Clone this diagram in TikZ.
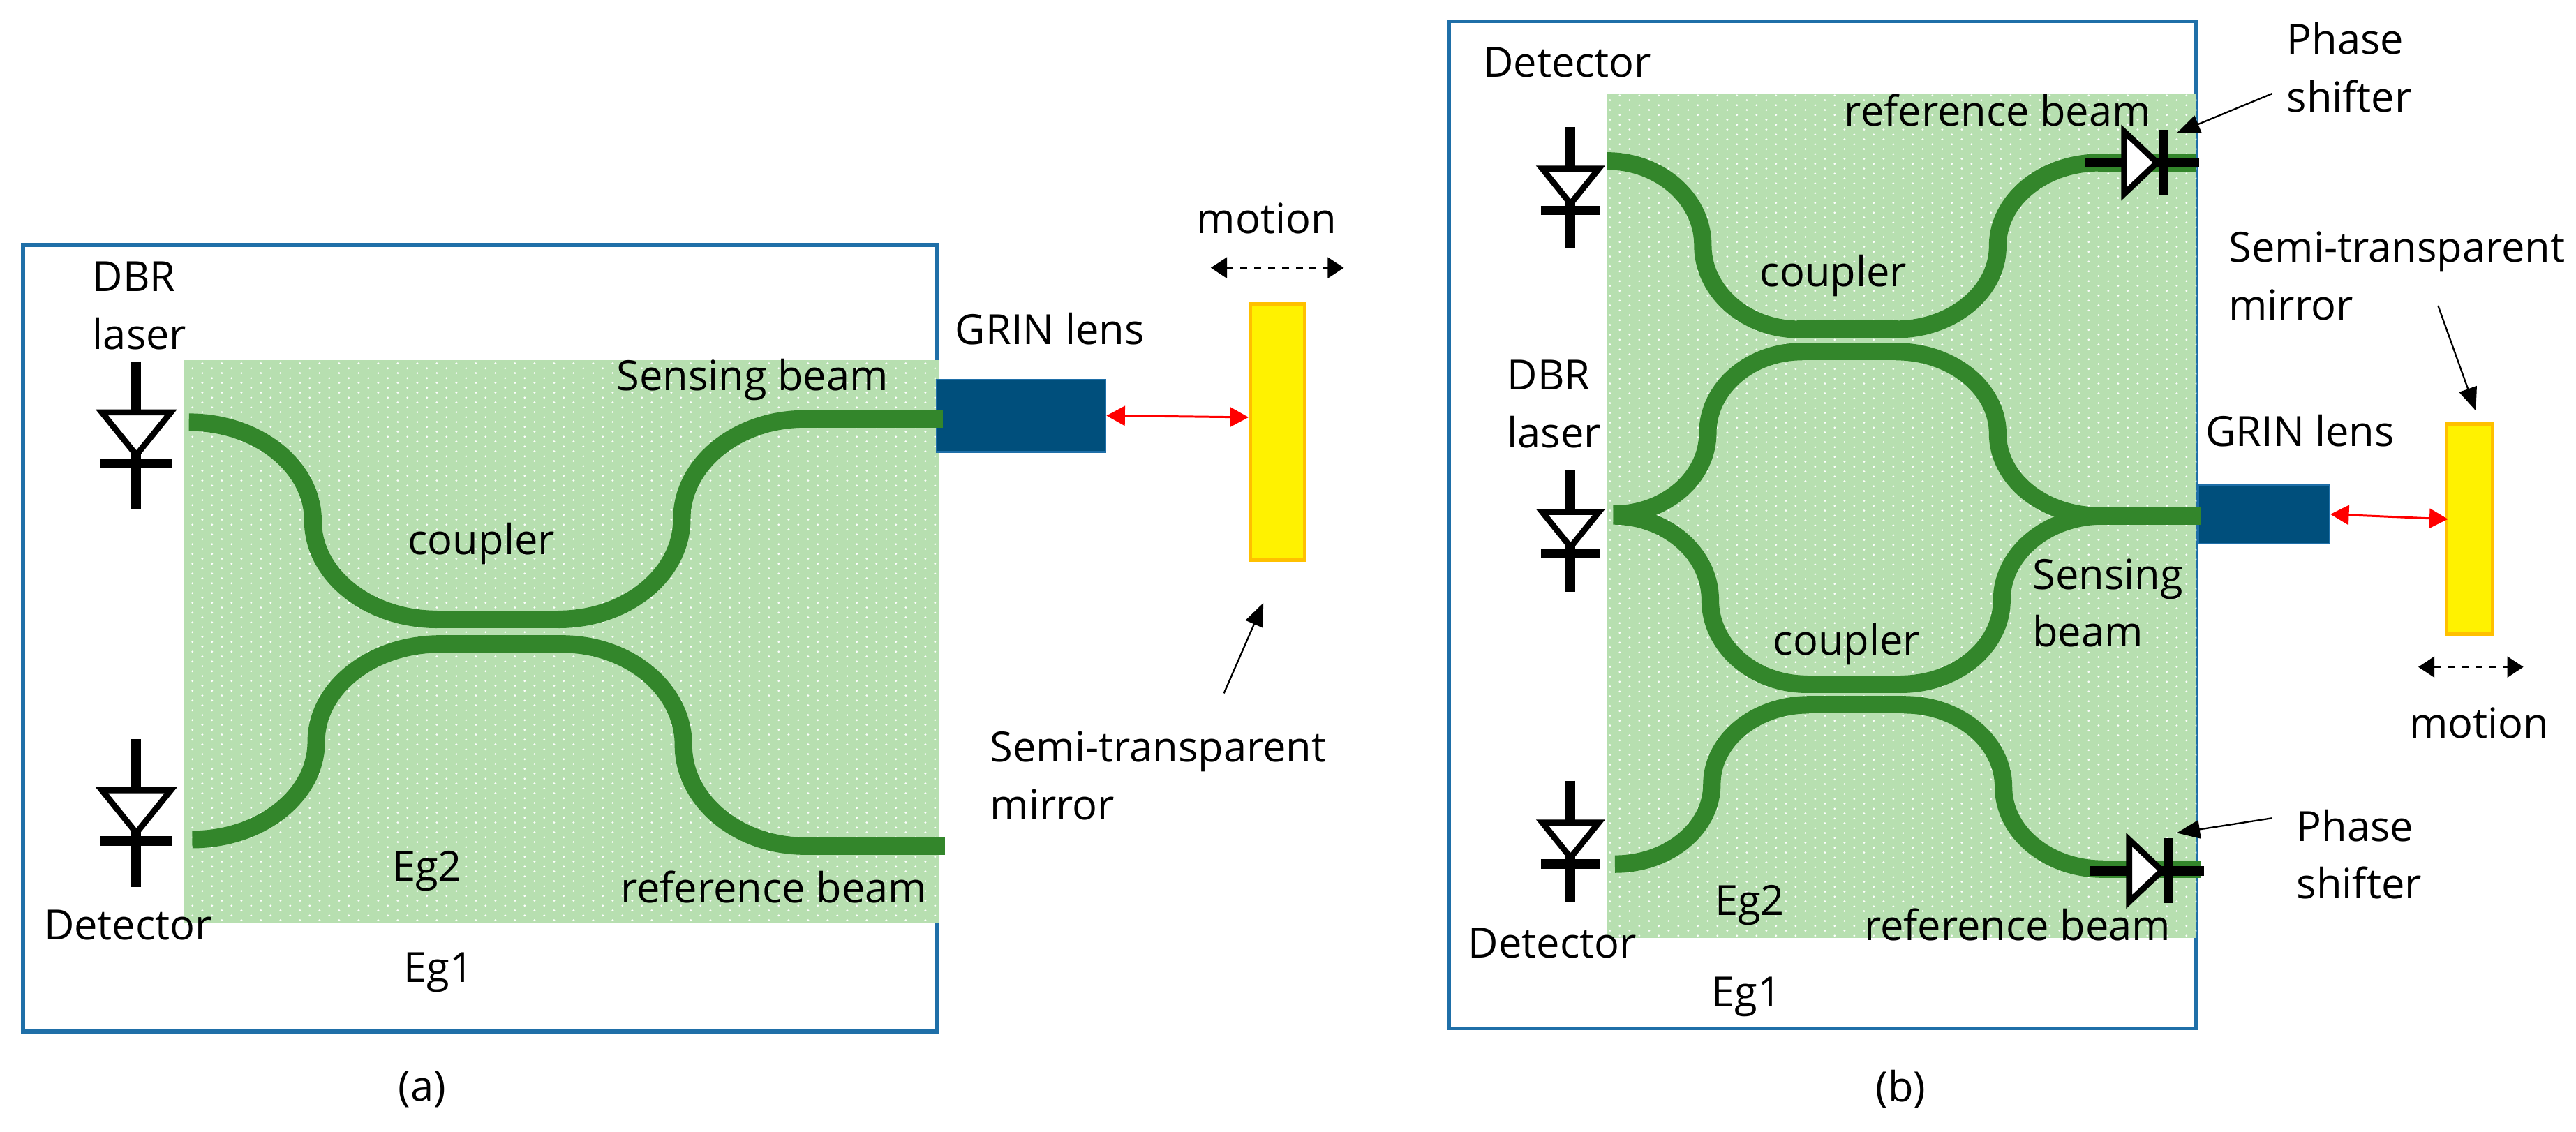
\documentclass[tikz,border=0pt]{standalone}
\usepackage{fontspec}
\setmainfont{Open Sans}
\usetikzlibrary{arrows.meta}
\usetikzlibrary{patterns}
\definecolor{chipgreen}{HTML}{B7DFB0}
\definecolor{guidegreen}{HTML}{33862B}
\definecolor{frameblue}{HTML}{1F6FA8}
\definecolor{lensblue}{HTML}{004F7C}
\definecolor{mirrorrim}{HTML}{FFC000}
\pgfdeclarepatternformonly{chipdots}{\pgfqpoint{0pt}{0pt}}{\pgfqpoint{8.58pt}{4.32pt}}{\pgfqpoint{8.58pt}{4.32pt}}
{%
  \pgfpathcircle{\pgfqpoint{2.14pt}{1.08pt}}{0.5pt}
  \pgfpathcircle{\pgfqpoint{6.43pt}{3.24pt}}{0.5pt}
  \pgfusepath{fill}
}
\tikzset{
  lbl/.style={font=\fontsize{18}{25}\selectfont, inner sep=0pt, align=left},
  frame/.style={draw=frameblue, line width=1.7pt},
  guide/.style={draw=guidegreen, line width=7.6pt},
  lead/.style={draw=black, line width=4.2pt},
  lens/.style={fill=lensblue, draw=frameblue, line width=0.7pt, inner sep=0pt},
  mirror/.style={fill=yellow, draw=mirrorrim, line width=1.4pt, inner sep=0pt},
  ray/.style={red, line width=0.9pt, {Triangle[length=8pt,width=8.5pt]}-{Triangle[length=8pt,width=8.5pt]}},
  travel/.style={black, line width=0.9pt, dashed, {Triangle[length=7pt,width=9pt]}-{Triangle[length=7pt,width=9pt]}},
  note/.style={black, line width=0.7pt, -{Triangle[length=10pt,width=8pt]}}
}
\begin{document}
\begin{tikzpicture}[x=0.025cm, y=-0.025cm]
  \useasboundingbox (0,0) rectangle (1568,689);
  \newcommand{\chip}[2]
  {%
    \fill[chipgreen] #1 rectangle #2;
    \fill[pattern=chipdots, pattern color=white] #1 rectangle #2;
  }%
  \newcommand{\diode}[2]
  {%
    \begin{scope}[shift={#1}, #2]
      \draw[lead] (0, -57) -- (0, 33);
      \draw[lead] (-22, 5) -- (22, 5);
      \draw[black, fill=white, line width=2.6pt] (-21, -26) -- (21, -26) -- (0, 0) -- cycle;
    \end{scope}%
  }%
  \newcommand{\sbend}[4]
  {%
    \pgfmathsetmacro{\xm}{(#1+#3)/2}
    \pgfmathsetmacro{\ym}{(#2+#4)/2}
    \pgfmathsetmacro{\cxa}{#1+0.552*(\xm-#1)}
    \pgfmathsetmacro{\cya}{\ym-0.552*(\ym-#2)}
    \pgfmathsetmacro{\cxb}{#3-0.552*(#3-\xm)}
    \pgfmathsetmacro{\cyb}{\ym+0.552*(#4-\ym)}
    \draw[guide] (#1, #2) .. controls (\cxa, #2) and (\xm, \cya) .. (\xm, \ym)
      .. controls (\xm, \cyb) and (\cxb, #4) .. (#3, #4);
  }%
  % (a)
  \draw[frame] (14, 149) rectangle (570, 628);
  \chip{(112, 219)}{(572, 562)}
  \node[lens, minimum width=2.575cm, minimum height=1.1cm] (lensA) at (621.5, 253) {};
  \node[mirror, minimum width=0.825cm, minimum height=3.9cm] (mirrorA) at (777.5, 263) {};
  \foreach \xa/\ya/\xb/\yb in {115/257/266/377, 340/377/490/255, 117/511/268/392, 342/392/490/515}
    {\sbend{\xa}{\ya}{\xb}{\yb}}
  \draw[guide] (265, 377) -- (341, 377);
  \draw[guide] (267, 392) -- (343, 392);
  \draw[guide] (489, 255) -- (574, 255);
  \draw[guide] (489, 515) -- (575, 515);
  \diode{(83, 277)}{}
  \diode{(83, 507)}{}
  \coordinate (rayEndA) at (760, 254);
  \draw[ray] (lensA.east) -- (rayEndA);
  \coordinate (travelLeftA) at (737, 163);
  \coordinate (travelRightA) at (818, 163);
  \draw[travel] (travelLeftA) -- (travelRightA);
  \coordinate (noteTailA) at (745, 422);
  \coordinate (noteTipA) at (769, 367);
  \draw[note] (noteTailA) -- (noteTipA);
  \node[lbl] (laserA) at (85, 186) {DBR\\laser};
  \node[lbl] (detectorA) at (78, 563) {Detector};
  \node[lbl] (sensingA) at (458, 231) {Sensing beam};
  \node[lbl] (couplerA) at (293, 331) {coupler};
  \node[lbl] (innerA) at (260, 530) {Eg2};
  \node[lbl] (referenceA) at (471, 540) {reference beam};
  \node[lbl] (outerA) at (267, 592) {Eg1};
  \node[lbl] (grinA) at (639, 200) {GRIN lens};
  \node[lbl] (motionA) at (771, 133) {motion};
  \node[lbl] (semiA) at (705, 472) {Semi-transparent\\mirror};
  \node[lbl] (captionA) at (257, 663) {(a)};
  % (b)
  \draw[frame] (882, 13) rectangle (1337, 626);
  \chip{(978, 57)}{(1337, 571)}
  \node[lens, minimum width=2cm, minimum height=0.9cm] (lensB) at (1378, 313) {};
  \node[mirror, minimum width=0.7cm, minimum height=3.2cm] (mirrorB) at (1503, 322) {};
  \foreach \xa/\ya/\xb/\yb in {978/98/1095/200.5, 1154/200.5/1278/99, 982/313/1097/214, 1154/214/1278/314,
    982/314/1100/416.5, 1157/416.5/1280/314, 983/526/1101/429, 1159/429/1280/529}
    {\sbend{\xa}{\ya}{\xb}{\yb}}
  \draw[guide] (1094, 200.5) -- (1155, 200.5);
  \draw[guide] (1096, 214) -- (1155, 214);
  \draw[guide] (1099, 416.5) -- (1158, 416.5);
  \draw[guide] (1100, 429) -- (1160, 429);
  \draw[guide] (1277, 99) -- (1337, 99);
  \draw[guide] (1277, 314) -- (1340, 314);
  \draw[guide] (1279, 529) -- (1340, 529);
  \diode{(956, 124)}{scale=0.82}
  \diode{(956, 333)}{scale=0.82}
  \diode{(956, 522)}{scale=0.82}
  \diode{(1313, 99)}{rotate=90, xscale=0.9, yscale=0.77}
  \diode{(1316, 530)}{rotate=90, xscale=0.9, yscale=0.77}
  \coordinate (rayEndB) at (1490, 316);
  \draw[ray] (lensB.east) -- (rayEndB);
  \coordinate (travelLeftB) at (1472, 406);
  \coordinate (travelRightB) at (1536, 406);
  \draw[travel] (travelLeftB) -- (travelRightB);
  \coordinate (noteTailB) at (1484, 186);
  \coordinate (noteTipB) at (1507, 250);
  \draw[note] (noteTailB) -- (noteTipB);
  \coordinate (shiftTailB) at (1383, 57);
  \coordinate (shiftTipB) at (1325, 81);
  \draw[note] (shiftTailB) -- (shiftTipB);
  \coordinate (shiftTailC) at (1383, 498);
  \coordinate (shiftTipC) at (1325, 507);
  \draw[note] (shiftTailC) -- (shiftTipC);
  \node[lbl] (detectorB) at (954, 38) {Detector};
  \node[lbl] (referenceB) at (1216, 67) {reference beam};
  \node[lbl] (couplerB) at (1116, 168) {coupler};
  \node[lbl] (couplerC) at (1124, 392) {coupler};
  \node[lbl] (laserB) at (946, 246) {DBR\\laser};
  \node[lbl] (grinB) at (1400, 262) {GRIN lens};
  \node[lbl] (sensingB) at (1283, 367) {Sensing\\beam};
  \node[lbl] (semiB) at (1459, 168) {Semi-transparent\\mirror};
  \node[lbl] (motionB) at (1509, 440) {motion};
  \node[lbl] (shiftB) at (1430, 41) {Phase\\shifter};
  \node[lbl] (shiftC) at (1436, 520) {Phase\\shifter};
  \node[lbl] (detectorC) at (945, 574) {Detector};
  \node[lbl] (innerB) at (1065, 551) {Eg2};
  \node[lbl] (referenceC) at (1228, 563) {reference beam};
  \node[lbl] (outerB) at (1063, 607) {Eg1};
  \node[lbl] (captionB) at (1157, 663) {(b)};
\end{tikzpicture}
\end{document}
